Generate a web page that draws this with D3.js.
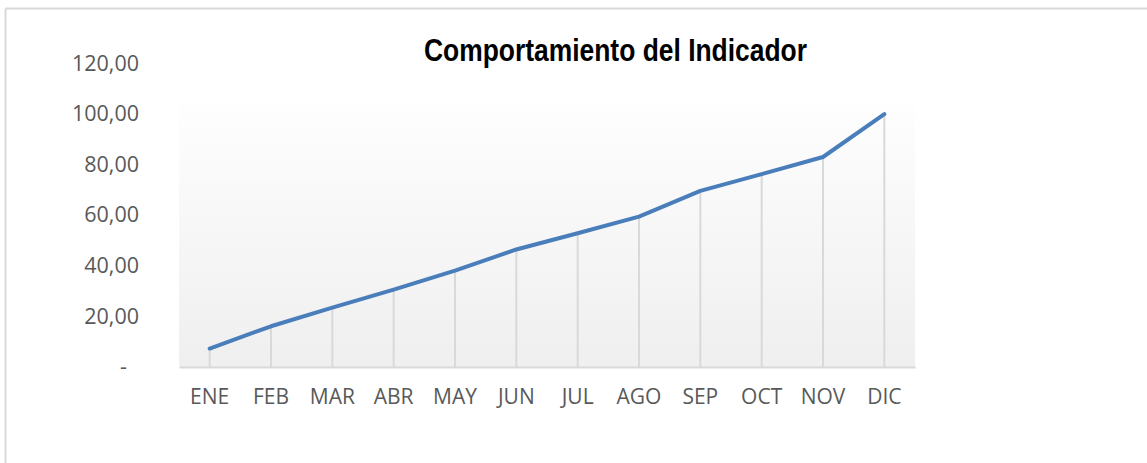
<!DOCTYPE html>
<html>
<head>
<meta charset="utf-8">
<script src="https://cdn.jsdelivr.net/npm/d3@7"></script>
<style>
  html, body { margin: 0; padding: 0; background: #fff; }
  svg { display: block; }
</style>
</head>
<body>
<svg id="chart"></svg>
<script>
// Data
const months = ["ENE", "FEB", "MAR", "ABR", "MAY", "JUN", "JUL", "AGO", "SEP", "OCT", "NOV", "DIC"];
const indicator = [7.2, 16.0, 23.4, 30.5, 38.0, 46.4, 52.8, 59.4, 69.6, 76.2, 83.0, 100.0];
const yTicks = [0, 20, 40, 60, 80, 100, 120];
const chartTitle = "Comportamiento del Indicador";

const W = 1147, H = 463;
const plot = { left: 179, right: 915, top: 103, bottom: 367 };

const svg = d3.select("#chart").attr("width", W).attr("height", H);

// Outer chart border (only top and left edges visible)
svg.append("line").attr("x1", 5.5).attr("x2", W).attr("y1", 8.5).attr("y2", 8.5)
  .attr("stroke", "#d9d9d9").attr("stroke-width", 2);
svg.append("line").attr("x1", 5.5).attr("x2", 5.5).attr("y1", 8.5).attr("y2", H)
  .attr("stroke", "#d9d9d9").attr("stroke-width", 2);

// Plot area gradient
const defs = svg.append("defs");
const grad = defs.append("linearGradient").attr("id", "plotGrad")
  .attr("x1", 0).attr("y1", 0).attr("x2", 0).attr("y2", 1);
grad.append("stop").attr("offset", "0%").attr("stop-color", "#fefefe");
grad.append("stop").attr("offset", "100%").attr("stop-color", "#efefef");

svg.append("rect")
  .attr("x", plot.left).attr("y", plot.top)
  .attr("width", plot.right - plot.left).attr("height", plot.bottom - plot.top)
  .attr("fill", "url(#plotGrad)");

// Scales
const x = d3.scaleBand().domain(months).range([plot.left, plot.right]);
const y = d3.scaleLinear().domain([0, 120]).range([366.7, 63.5]);
const cx = d => x(d) + x.bandwidth() / 2;

// Y axis (labels only)
const fmt = d => d === 0 ? "-" : d.toFixed(2).replace(".", ",");
const yAxis = svg.append("g")
  .attr("transform", `translate(${plot.left - 40},0)`)
  .call(d3.axisLeft(y).tickValues(yTicks).tickFormat(fmt).tickSize(0).tickPadding(0));
yAxis.select(".domain").remove();
yAxis.selectAll("text")
  .attr("font-family", "'Open Sans', sans-serif")
  .attr("font-size", "21.5px")
  .attr("fill", "#595959")
  .attr("dx", d => d === 0 ? -12 : 0);

// X axis
const xAxis = svg.append("g")
  .attr("transform", `translate(0,${plot.bottom})`)
  .call(d3.axisBottom(x).tickSize(0).tickPadding(22));
xAxis.select(".domain").attr("stroke", "#d9d9d9").attr("stroke-width", 2);
xAxis.selectAll("text")
  .attr("font-family", "'Open Sans', sans-serif")
  .attr("font-size", "21px")
  .attr("fill", "#595959");

// Drop lines
svg.append("g").selectAll("line")
  .data(months)
  .enter().append("line")
  .attr("x1", d => cx(d)).attr("x2", d => cx(d))
  .attr("y1", (d, i) => y(indicator[i])).attr("y2", plot.bottom)
  .attr("stroke", "#d9d9d9").attr("stroke-width", 2);

// Line
const line = d3.line()
  .x((d, i) => cx(months[i]))
  .y(d => y(d));

svg.append("path")
  .datum(indicator)
  .attr("d", line)
  .attr("fill", "none")
  .attr("stroke", "#4a7ebb")
  .attr("stroke-width", 4)
  .attr("stroke-linecap", "round")
  .attr("stroke-linejoin", "round");

// Title (narrow bold face, squeezed to the reference width)
svg.append("text")
  .attr("x", 424).attr("y", 61)
  .attr("font-family", "'Liberation Sans Narrow', 'Arial Narrow', 'Liberation Sans', sans-serif")
  .attr("font-weight", "bold")
  .attr("font-size", "32px")
  .attr("textLength", 383)
  .attr("lengthAdjust", "spacingAndGlyphs")
  .attr("fill", "#000")
  .text(chartTitle);
</script>
</body>
</html>
